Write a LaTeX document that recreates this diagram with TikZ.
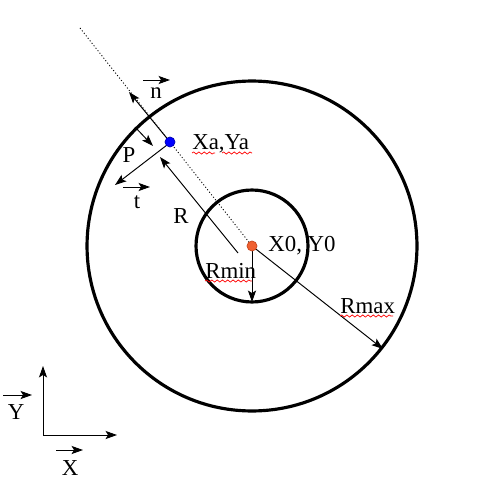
\documentclass[tikz,border=0pt]{standalone}
\usepackage{fontspec}
\setmainfont{Liberation Serif}
\usetikzlibrary{arrows.meta,decorations.pathmorphing}

\begin{document}
\begin{tikzpicture}[x=0.02cm, y=-0.02cm,
    font=\fontsize{13}{15}\selectfont,
    tip/.style={-{Stealth[length=6.5pt,width=4.6pt,inset=1.4pt]}, line width=0.55pt},
    ring/.style={line width=1.8pt},
    lbl/.style={inner sep=0pt},
    wavy/.style={red, line width=0.4pt, decorate,
        decoration={snake, amplitude=0.6pt, segment length=3pt}}]

    \useasboundingbox (0,0) rectangle (500,500);

    % Key points
    \coordinate (O) at (252,246);
    \coordinate (A) at (170,142);
    \coordinate (D) at (80,28);
    \coordinate (N) at (129,92);
    \coordinate (P1) at (135,127);
    \coordinate (P2) at (153,146);
    \coordinate (T1) at (167,145);
    \coordinate (T2) at (115,185);
    \coordinate (R1) at (238,253);
    \coordinate (R2) at (160,157);
    \coordinate (Bmin) at (252,302);
    \coordinate (Bmax) at (383,349);

    % Draw circles
    \draw[ring] (O) circle (3.3cm);
    \draw[ring] (O) circle (1.12cm);

    % Draw normal line
    \draw[line width=0.5pt, dash pattern=on 0.6pt off 1.2pt] (D) -- (O);

    % Draw arrows
    \draw[tip] (A) -- (N);
    \draw[tip] (P1) -- (P2);
    \draw[tip] (T1) -- (T2);
    \draw[tip] (R1) -- (R2);
    \draw[tip] (O) -- (Bmin);
    \draw[tip] (O) -- (Bmax);

    % Plot points
    \filldraw[fill=blue, draw=blue!70!black] (A) circle (0.1cm);
    \filldraw[fill={rgb,255:red,240;green,96;blue,48}, draw={rgb,255:red,200;green,70;blue,30}] (O) circle (0.1cm);

    % Labels
    \node[lbl, anchor=base] (nlab) at (156,98) {n};
    \node[lbl, anchor=base west] (alab) at (192,149) {Xa,Ya};
    \node[lbl, anchor=base] (plab) at (129,162) {P};
    \node[lbl, anchor=base] (tlab) at (137,208) {t};
    \node[lbl, anchor=base] (rlab) at (181,223) {R};
    \node[lbl, anchor=base west] (olab) at (268,251) {X0, Y0};
    \node[lbl, anchor=base west] (minlab) at (205,278) {Rmin};
    \node[lbl, anchor=base west] (maxlab) at (340,313) {Rmax};

    % Vector marks
    \draw[tip] ([shift={(-13,-18)}]nlab.base) -- ([shift={(14,-18)}]nlab.base);
    \draw[tip] ([shift={(-14,-21)}]tlab.base) -- ([shift={(13,-21)}]tlab.base);

    % Spelling marks
    \draw[wavy] (192,153) -- (215,153);
    \draw[wavy] (222,153) -- (252,153);
    \draw[wavy] (205,281) -- (252,281);
    \draw[wavy] (340,316) -- (393,316);

    % Draw axes
    \coordinate (Org) at (43,435);
    \coordinate (Ytop) at (43,366);
    \coordinate (Xend) at (117,435);
    \draw[tip] (Org) -- (Ytop);
    \draw[tip] (Org) -- (Xend);
    \node[lbl, anchor=base] (xlab) at (70,475) {X};
    \node[lbl, anchor=base] (ylab) at (16,419) {Y};
    \draw[tip] ([shift={(-14,-25)}]xlab.base) -- ([shift={(13,-25)}]xlab.base);
    \draw[tip] ([shift={(-13,-24)}]ylab.base) -- ([shift={(16,-24)}]ylab.base);

\end{tikzpicture}
\end{document}
